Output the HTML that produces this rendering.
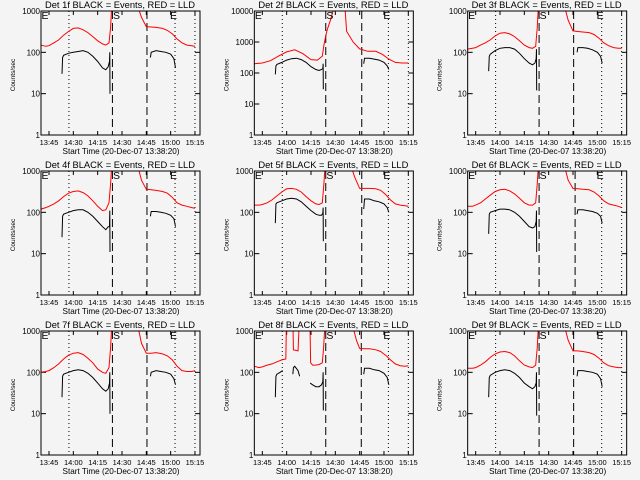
<!DOCTYPE html>
<html><head><meta charset="utf-8"><title>Detector count rates</title>
<style>
html,body{margin:0;padding:0;background:#f4f4f4;}
svg{display:block;}
text{font-family:"Liberation Sans",sans-serif;fill:#000;}
</style></head>
<body>
<svg id="chart" width="640" height="480" viewBox="0 0 640 480" xmlns="http://www.w3.org/2000/svg">
<rect x="0" y="0" width="640" height="480" fill="#f4f4f4"/>
</svg>
<script>
// ---- data (minutes after 13:45, counts/sec) ----
const detectorNames = ["1f","2f","3f","4f","5f","6f","7f","8f","9f"];
const yMaxDecade = [3,4,3,3,3,3,3,3,3];
const xTickLabels = ["13:45","14:00","14:15","14:30","14:45","15:00","15:15"];
const xTickLabelsP1 = ["13:45","14:30","14:15","14:30","14:45","15:00","15:15"];
const xTickMinutes = [0,15,30,45,60,75,90];
const dottedMinutes = [12.3,77.7,90];
const dashedFirst = [39.1,39.1,39.1,39.1,39.1,39.1,39.1,39.1,39.1];
const dashedSecond = [60.4,61.3,60.4,60.4,61.3,61.3,60.4,61.0,60.4];

const redTimes = [-5,-2,0,3,6,9,12,15,18,21,24,27,30,33,35,37,38,38.6,null,55,57,60,63,66,70,73,76,79,82,85,88,90];
const redVals1 = [150,140,145,170,200,260,320,380,390,350,300,240,190,160,150,170,400,1200,null,1200,700,420,410,400,380,340,280,210,170,150,145,140];
const redVals3 = [120,125,130,150,170,200,250,290,300,280,240,190,150,130,125,140,400,1200,null,1200,600,330,320,310,300,270,220,170,145,130,125,125];
const redVals4 = [120,130,140,160,190,240,290,320,330,300,250,190,140,110,115,170,500,1200,null,1200,600,360,350,340,320,290,230,170,150,140,130,125];
const redVals5 = [150,150,155,170,200,250,310,370,380,360,310,240,190,160,155,170,500,1200,null,1200,700,380,380,380,370,340,270,200,160,150,145,140];
const redVals6 = [140,140,150,170,210,260,320,350,360,330,280,220,170,150,150,170,500,1200,null,1200,600,380,370,360,350,310,250,190,160,150,140,130];
const redVals7 = [100,105,110,130,160,210,260,290,300,270,220,170,120,100,95,130,400,1200,null,1200,500,290,290,300,280,250,200,140,110,105,105,110];
const redVals9 = [125,125,130,150,180,230,280,310,320,300,250,190,150,135,130,150,400,1200,null,1200,600,330,330,320,300,270,220,170,145,135,130,130];

const redTimes2 = [-5,0,5,10,15,20,25,30,34,37,38,39,40,42,44,null,51,52,56,60,65,70,74,78,82,86,90];
const redVals2 = [200,210,250,350,480,560,420,270,260,350,800,1500,2500,5000,12000,null,12000,2200,1000,600,500,500,400,280,220,210,210];

const redTimes8 = [-5,-2,0,3,6,9,12,14.5,14.8,18.9,19.2,22,22.6,23,23.5,29.4,29.8,31,33,35,37,37.8,38.5,null,56,58,60,63,66,70,73,76,79,82,85,88,90];
const redVals8 = [140,130,135,150,160,180,200,210,1200,1200,350,330,1200,1200,1200,1200,170,150,150,155,170,400,1200,null,1200,600,380,370,370,350,320,260,200,160,145,140,145];

const blackTimes = [8,8.4,9,12,15,18,21,24,27,30,33,35,36.5,37.3,37.5,37.6,null,62.5,63,66,69,72,75,77,78];
const blackVals1 = [30,75,85,95,100,105,110,100,80,60,42,38,45,60,100,10,null,75,100,110,105,100,90,70,42];
const blackVals2 = [90,170,190,220,260,290,300,270,220,160,130,120,130,140,200,30,null,200,300,300,280,260,220,170,130];
const blackVals3 = [35,80,90,110,125,130,130,120,95,70,55,50,55,70,120,12,null,100,130,130,125,115,100,80,55];
const blackVals4 = [25,80,90,100,110,115,115,100,80,60,45,38,45,45,110,11,null,80,105,105,100,95,85,70,45];
const blackVals5 = [55,160,170,190,210,220,210,180,140,110,90,85,85,95,130,20,null,120,210,210,190,180,160,130,100];
const blackVals6 = [30,90,100,110,120,120,115,100,80,60,45,42,45,60,110,11,null,90,115,115,110,105,95,80,55];
const blackVals7 = [25,80,90,100,110,115,110,95,75,55,40,35,40,55,100,10,null,80,100,110,105,100,90,70,50];
const blackVals9 = [25,75,85,100,110,115,110,95,75,55,45,40,45,55,100,9,null,80,110,110,105,100,90,70,45];

const blackTimes8 = [8,8.4,9,11,12.5,null,18.8,19.2,20,22,23,null,29.5,31,33,35,36.5,37.3,37.5,37.6,null,62.5,63,66,69,72,75,77,78];
const blackVals8 = [25,80,90,100,110,null,90,130,140,110,80,null,55,50,45,45,50,60,100,12,null,90,125,125,115,110,95,75,50];

const redSeries = [[redTimes,redVals1],[redTimes2,redVals2],[redTimes,redVals3],[redTimes,redVals4],[redTimes,redVals5],[redTimes,redVals6],[redTimes,redVals7],[redTimes8,redVals8],[redTimes,redVals9]];
const blackSeries = [[blackTimes,blackVals1],[blackTimes,blackVals2],[blackTimes,blackVals3],[blackTimes,blackVals4],[blackTimes,blackVals5],[blackTimes,blackVals6],[blackTimes,blackVals7],[blackTimes8,blackVals8],[blackTimes,blackVals9]];

// ---- drawing ----
const NS = "http://www.w3.org/2000/svg";
const svg = document.getElementById("chart");
const BOX = {l:41, r:200, t:11, b:135};
function mk(tag, attrs, parent){
  const e = document.createElementNS(NS, tag);
  for (const k in attrs) e.setAttribute(k, attrs[k]);
  parent.appendChild(e);
  return e;
}
function xScale(m){ return 49 + m*1.622; }

for (let p = 0; p < 9; p++) {
  const ox = [0,213.33,426.67][p%3], oy = [0,160,320][Math.floor(p/3)];
  const g = mk("g", {transform:"translate("+ox+","+oy+")"}, svg);
  
  
  const top = yMaxDecade[p];
  const dec = (BOX.b - BOX.t) / top;
  const yScale = v => BOX.t + (top - Math.log10(v)) * dec;

  const cp = mk("clipPath", {id:"clip"+p}, g);
  mk("rect", {x:BOX.l, y:BOX.t, width:BOX.r-BOX.l, height:BOX.b-BOX.t}, cp);

  // title
  const title = mk("text", {x:120, y:8, "font-size":"9", "text-anchor":"middle", textLength:"150", lengthAdjust:"spacingAndGlyphs"}, g);
  title.textContent = "Det " + detectorNames[p] + " BLACK = Events, RED = LLD";
  
  

  // y axis labels & ticks
  for (let d = 0; d <= top; d++) {
    const y = yScale(Math.pow(10, d));
    const lab = mk("text", {x:BOX.l-1, y:y+3, "font-size":"8", "text-anchor":"end"}, g);
    lab.textContent = String(Math.pow(10, d));
    
    
    mk("line", {x1:BOX.l, x2:BOX.l+5, y1:y, y2:y, stroke:"#000", "stroke-width":"1"}, g);
    mk("line", {x1:BOX.r-5, x2:BOX.r, y1:y, y2:y, stroke:"#000", "stroke-width":"1"}, g);
  }
  const yt = mk("text", {x:0, y:0, "font-size":"6.5", "text-anchor":"middle", transform:"translate(15,75) rotate(-90)"}, g);
  yt.textContent = "Counts/sec";
  
  

  // x ticks
  const labs = p === 0 ? xTickLabelsP1 : xTickLabels;
  for (let i = 0; i < xTickMinutes.length; i++) {
    const x = xScale(xTickMinutes[i]);
    mk("line", {x1:x, x2:x, y1:BOX.b, y2:BOX.b-4, stroke:"#000", "stroke-width":"1"}, g);
    mk("line", {x1:x, x2:x, y1:BOX.t, y2:BOX.t+4, stroke:"#000", "stroke-width":"1"}, g);
    const xl = mk("text", {x:x, y:145, "font-size":"7.5", "text-anchor":"middle"}, g);
    xl.textContent = labs[i];
    
    
  }
  const xt = mk("text", {x:121, y:154, "font-size":"8.5", "text-anchor":"middle", textLength:"117", lengthAdjust:"spacingAndGlyphs"}, g);
  xt.textContent = "Start Time (20-Dec-07 13:38:20)";
  
  

  // vertical markers
  for (const m of dottedMinutes) {
    const x = xScale(m);
    const l = mk("line", {x1:x, x2:x, y1:BOX.t, y2:BOX.b, stroke:"#000", "stroke-width":"1", "stroke-dasharray":"1,3"}, g);
    
    
  }
  for (const m of [dashedFirst[p], dashedSecond[p]]) {
    const x = xScale(m);
    const l = mk("line", {x1:x, x2:x, y1:BOX.t, y2:BOX.b, stroke:"#000", "stroke-width":"1", "stroke-dasharray":"8,4"}, g);
    
    
  }

  // series
  function drawSeries(ts, vs, color, name) {
    let d = "", pen = false;
    for (let i = 0; i < ts.length; i++) {
      if (ts[i] === null || vs[i] === null) { pen = false; continue; }
      d += (pen ? "L" : "M") + xScale(ts[i]).toFixed(1) + " " + yScale(vs[i]).toFixed(1);
      pen = true;
    }
    const path = mk("path", {d:d, fill:"none", stroke:color, "stroke-width":"1", "clip-path":"url(#clip"+p+")"}, g);
    
    
  }
  drawSeries(redSeries[p][0], redSeries[p][1], "#ff0000", "red-lld-line");
  drawSeries(blackSeries[p][0], blackSeries[p][1], "#000000", "black-events-line");

  // E S E letters
  const letters = [["E", 41.5], ["S", 113], ["E", 170]];
  for (const [ch, lx] of letters) {
    const t = mk("text", {x:lx, y:19, "font-size":"10.5"}, g);
    t.textContent = ch;
    
    
  }

  // plot box
  const box = mk("rect", {x:BOX.l, y:BOX.t, width:BOX.r-BOX.l, height:BOX.b-BOX.t, fill:"none", stroke:"#000", "stroke-width":"1"}, g);
  
  
}
</script>
</body></html>
